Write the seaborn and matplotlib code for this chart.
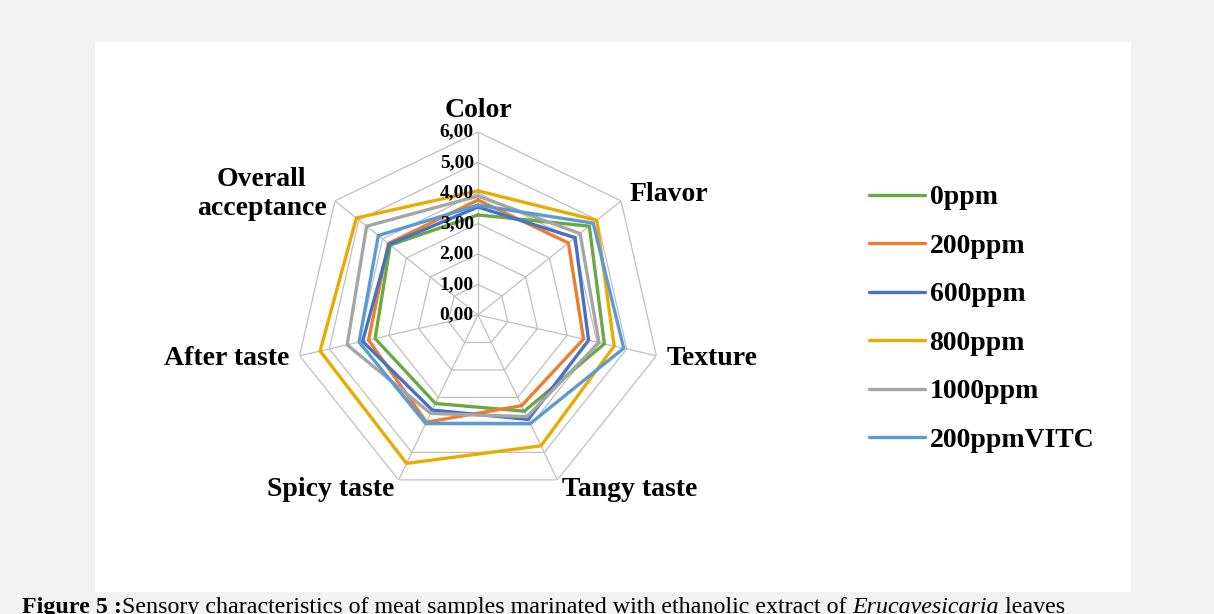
import numpy as np
import pandas as pd
import matplotlib
matplotlib.use("Agg")
import matplotlib.pyplot as plt
import seaborn as sns
from matplotlib.lines import Line2D
from matplotlib.patches import Rectangle

# valeurs (ordre des axes du radar)
categories = ["Color", "Flavor", "Texture", "Tangy taste", "Spicy taste", "After taste", "Overall\nacceptance"]
ppm_0 = [3.28, 4.67, 4.25, 3.50, 3.22, 3.46, 3.68]
ppm_200 = [3.77, 3.79, 3.55, 3.30, 3.90, 3.68, 3.76]
ppm_600 = [3.54, 4.07, 3.72, 3.80, 3.46, 3.88, 3.72]
ppm_800 = [4.07, 4.98, 4.58, 4.76, 5.40, 5.31, 5.10]
ppm_1000 = [3.90, 4.28, 4.07, 3.70, 3.58, 4.40, 4.67]
ppm_200_vitc = [3.60, 4.83, 4.90, 3.95, 3.94, 4.00, 4.18]
series_names = ["0ppm", "200ppm", "600ppm", "800ppm", "1000ppm", "200ppmVITC"]
tick_values = [0, 1, 2, 3, 4, 5, 6]
tick_labels = ["0,00", "1,00", "2,00", "3,00", "4,00", "5,00", "6,00"]

colors = ["#6AA843", "#ED7D31", "#4472C4", "#E8AC00", "#A5A5A5", "#5B9BD5"]

sns.set_style("white")
plt.rcParams['font.family'] = ['Liberation Serif', 'DejaVu Serif']
plt.rcParams['text.color'] = 'black'

n = len(categories)
angles = np.linspace(0, 2 * np.pi, n, endpoint=False)
closed_angles = np.append(angles, angles[0])

# format long pour seaborn, polygone fermé
all_values = [ppm_0, ppm_200, ppm_600, ppm_800, ppm_1000, ppm_200_vitc]
rows = []
for name, vals in zip(series_names, all_values):
    vals_closed = list(vals) + [vals[0]]
    for a, v in zip(closed_angles, vals_closed):
        rows.append({"angle": a, "score": v, "sample": name})
df = pd.DataFrame(rows)

fig = plt.figure(figsize=(12.14, 6.14), dpi=100)
fig.patch.set_facecolor("#F2F2F2")
fig.patches.append(Rectangle((95 / 1214, 22 / 614), 1036 / 1214, 550 / 614,
                             transform=fig.transFigure, facecolor="white",
                             edgecolor="none", zorder=-5))

cx, cy, rad = 478, 315, 183
ax = fig.add_axes([(cx - rad) / 1214, (614 - cy - rad) / 614, 2 * rad / 1214, 2 * rad / 614],
                  projection="polar")
ax.set_facecolor("none")
ax.set_theta_zero_location("N")
ax.set_theta_direction(-1)
ax.set_ylim(0, 6)
ax.grid(False)
ax.spines["polar"].set_visible(False)
ax.set_xticks([])
ax.set_yticks([])

# grille polygonale façon Excel
for t in tick_values[1:]:
    ax.plot(closed_angles, [t] * len(closed_angles), color="#BFBFBF", lw=0.9, zorder=1)
for a in angles:
    ax.plot([a, a], [0, 6], color="#BFBFBF", lw=0.9, zorder=1)

sns.lineplot(data=df, x="angle", y="score", hue="sample", hue_order=series_names,
             palette=colors, sort=False, estimator=None, lw=2.4, legend=False, ax=ax, zorder=3)
ax.set_xlabel("")
ax.set_ylabel("")
ax.set_ylim(0, 6)

for t, lab in zip(tick_values, tick_labels):
    ax.annotate(lab, xy=(0, t), xytext=(-3, 0), textcoords="offset points",
                ha="right", va="center", fontsize=14, fontweight="bold", zorder=4)

for a, lab in zip(angles, categories):
    s = np.sin(a)
    if abs(s) < 1e-6:
        ax.text(a, 6.3, lab, ha="center", va="bottom", fontsize=20, fontweight="bold")
    else:
        ax.text(a, 6.35, lab, ha="left" if s > 0 else "right", va="center",
                multialignment="center", fontsize=20, fontweight="bold", linespacing=1.2)

handles = [Line2D([0], [0], color=c, lw=2.4) for c in colors]
fig.legend(handles, series_names, loc="upper left", bbox_to_anchor=(869 / 1214, 1 - 185 / 614),
           frameon=False, prop={"weight": "bold", "size": 20},
           handlelength=2.0, handletextpad=0.18, labelspacing=0.83, borderpad=0, borderaxespad=0)

# légende de la figure, coupée en bas comme sur l'original
fig.canvas.draw()
renderer = fig.canvas.get_renderer()
x0, ybase = 22 / 1214, 1 / 614
parts = [("Figure 5 :", "bold", "normal"),
         ("Sensory characteristics of meat samples marinated with ethanolic extract of ", "normal", "normal"),
         ("Erucavesicaria", "normal", "italic"),
         (" leaves", "normal", "normal")]
for txt, w, st in parts:
    t = fig.text(x0, ybase, txt, fontsize=17.3, fontweight=w, fontstyle=st, va="baseline", ha="left")
    bb = t.get_window_extent(renderer)
    x0 = bb.x1 / fig.bbox.width

fig.savefig("out.png", dpi=100, facecolor=fig.get_facecolor())
